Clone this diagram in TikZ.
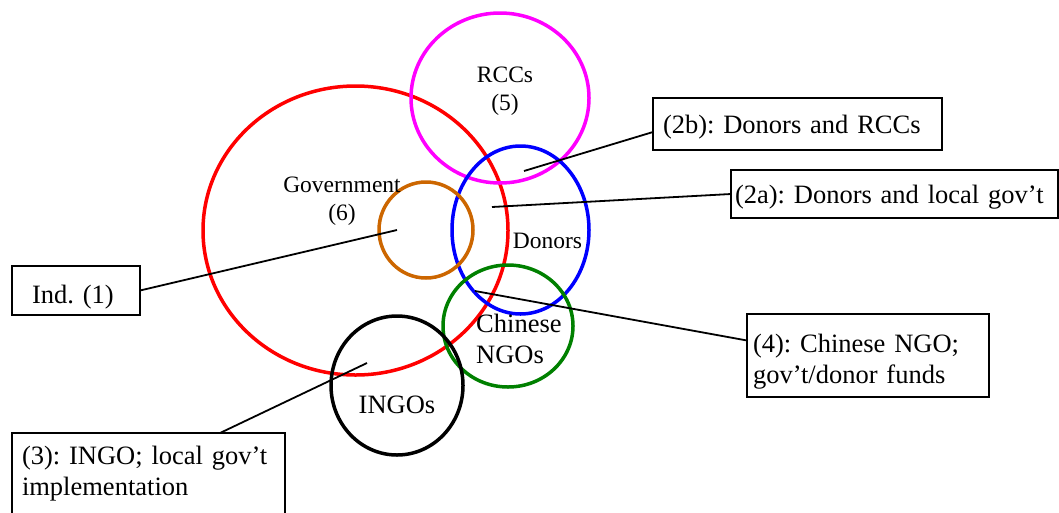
\documentclass[tikz,border=0pt]{standalone}
\usepackage{fontspec}
\setmainfont{Liberation Serif}
\usetikzlibrary{shapes.geometric}
\definecolor{ringorange}{RGB}{204,102,0}
\definecolor{ringgreen}{RGB}{0,128,0}
\definecolor{ringmagenta}{RGB}{255,0,255}
\definecolor{ringred}{RGB}{255,0,0}
\definecolor{ringblue}{RGB}{0,0,255}
\begin{document}
\frenchspacing
\begin{tikzpicture}[x=1pt,y=-1pt,
  ring/.style={draw,ellipse,line width=3.5pt,inner sep=0pt,outer sep=0pt},
  lbl/.style={font=\fontsize{23.5}{28}\selectfont,align=center,inner sep=0pt},
  biglbl/.style={font=\fontsize{26.5}{31}\selectfont,inner sep=0pt},
  box/.style={draw,line width=2pt,rectangle,anchor=north west,align=left,inner ysep=0pt,outer sep=0pt,font=\fontsize{26.5}{31}\selectfont},
  conn/.style={line width=1.8pt}]
\useasboundingbox (0,0) rectangle (1059,512);
% rings
\node[ring,ringred,minimum width=305pt,minimum height=289pt] (gov) at (355.5,230.5) {};
\node[ring,ringmagenta,minimum width=178pt,minimum height=170pt] (rcc) at (500,98) {};
\node[ring,ringblue,minimum width=137pt,minimum height=168pt] (don) at (520.5,230) {};
\node[ring,ringorange,minimum width=94pt,minimum height=96pt] (indr) at (426,230) {};
\node[ring,ringgreen,minimum width=130pt,minimum height=122pt] (cng) at (508,326) {};
\node[ring,black,minimum width=132pt,minimum height=139pt] (ing) at (397,385.5) {};
% ring labels
\node[lbl] (lrcc) at (505,91) {RCCs\\(5)};
\node[lbl] (lgov) at (342,201) {Government\\(6)};
\node[lbl] (ldon) at (547.5,241) {Donors};
\node[biglbl,align=left,anchor=west] (lcng) at (476,338.5) {Chinese\\NGOs};
\node[biglbl] (ling) at (397,405) {INGOs};
% boxes
\node[box,inner xsep=10pt,text width=269pt,text height=35pt,text depth=17pt] (b2b) at (653,98) {(2b): Donors and RCCs};
\node[box,inner xsep=4pt,text width=319pt,text height=33pt,text depth=15pt] (b2a) at (731,170) {(2a): Donors and local gov’t};
\node[box,inner xsep=20pt,text width=88pt,text height=37pt,text depth=12pt] (bind) at (12,266) {Ind. (1)};
\node[box,inner xsep=6pt,text width=230pt,text height=38pt,text depth=45pt] (b4) at (747,314) {(4): Chinese NGO;\\gov’t/donor funds};
\node[box,inner xsep=10pt,text width=253pt,text height=31pt,text depth=100pt] (b3) at (12,433) {(3): INGO; local gov’t\\implementation};
% connectors
\coordinate (p2b) at (524,171);
\coordinate (p2a) at (492,207);
\coordinate (p1) at (397,230);
\coordinate (p4) at (475,291);
\coordinate (p3) at (367,363);
\draw[conn] (p2b) -- ([yshift=-8pt]b2b.west);
\draw[conn] (p2a) -- (b2a.west);
\draw[conn] (bind.east) -- (p1);
\draw[conn] (p4) -- ([yshift=15pt]b4.west);
\draw[conn] (p3) -- ([xshift=208pt]b3.north west);
\end{tikzpicture}
\end{document}
